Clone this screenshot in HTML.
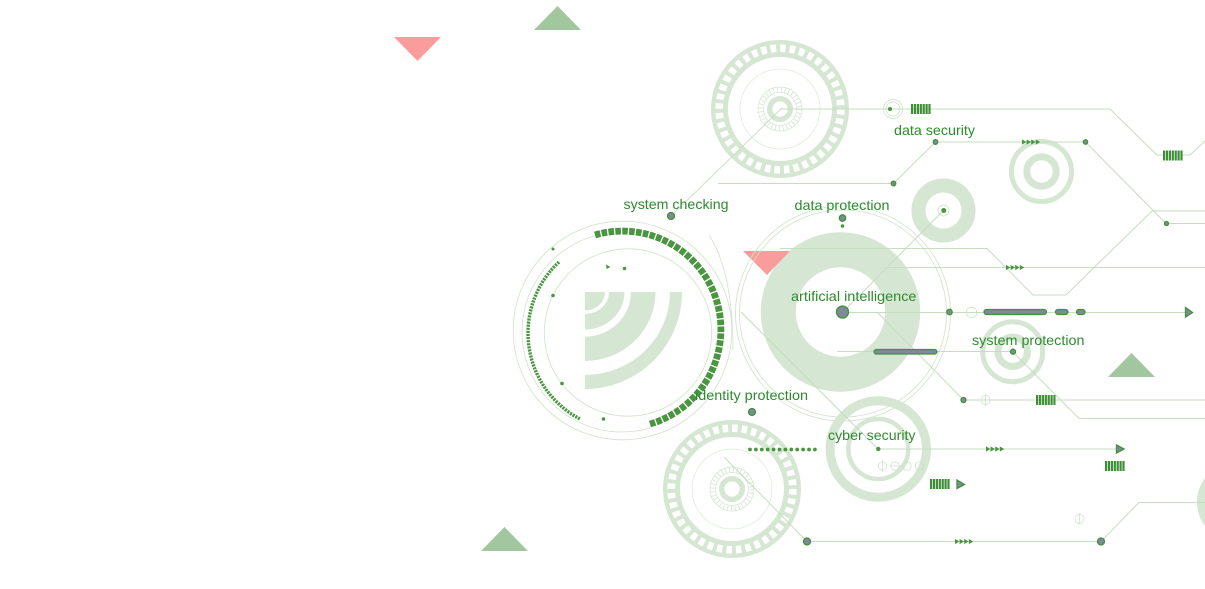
<!DOCTYPE html>
<html lang="en">
<head>
<meta charset="utf-8">
<title>Technology network illustration</title>
<style>
html,body{margin:0;padding:0;background:#fff;width:1205px;height:589px;overflow:hidden}
svg{display:block}
.l{fill:none;stroke:#c5debf;stroke-width:1}
.d{fill:none;stroke:#cfe3cb;stroke-width:.8}
.t{fill:none;stroke:#c9dfc5;stroke-width:.7}
.r{fill:none;stroke:#d5e6d2}
.n{fill:#7d8b98;stroke:#43903a;stroke-width:1.3}
.g{fill:#4a9640}
.b{fill:none;stroke:#3f8f37;stroke-width:10;stroke-dasharray:2.2 .7}
.p{fill:#7d8b98;stroke:#43903a;stroke-width:1.2}
text{font-family:"Liberation Sans",sans-serif;font-size:14px;fill:#2e8a2e}
</style>
</head>
<body>
<svg width="1205" height="589" viewBox="0 0 1205 589" xmlns="http://www.w3.org/2000/svg">
<defs>
<g id="arrows">
<polygon points="0,-2.6 4.4,0 0,2.6"/><polygon points="4.6,-2.6 9,0 4.6,2.6"/><polygon points="9.2,-2.6 13.6,0 9.2,2.6"/><polygon points="13.8,-2.6 18.2,0 13.8,2.6"/>
</g>
<g id="gear">
<circle r="60.5" class="r" stroke-width="17"/>
<circle r="60.8" fill="none" stroke="#fff" stroke-width="7.6" stroke-dasharray="5.6 3.95"/>
<circle r="40" fill="none" stroke="#dfecdc" stroke-width=".8"/>
<circle r="22" fill="none" stroke="#d5e6d2" stroke-width=".7"/>
<circle r="16.5" fill="none" stroke="#d5e6d2" stroke-width=".7"/>
<circle r="19.2" fill="none" stroke="#d5e6d2" stroke-width="5.5" stroke-dasharray=".8 3"/>
<circle r="10.3" class="r" stroke-width="5.4"/>
</g>
</defs>

<polygon points="394,37 441,37 417.5,61" fill="#fb9c9c"/>
<polygon points="557.5,6 534,30 581,30" fill="#a2c69d"/>
<polygon points="1131.5,353 1108,377 1155,377" fill="#a2c69d"/>
<polygon points="504.5,527 481,551 528,551" fill="#a2c69d"/>

<use href="#gear" x="780" y="109"/>
<use href="#gear" x="732" y="489"/>

<circle cx="840.5" cy="312" r="62.2" class="r" stroke-width="35"/>
<polygon points="743,251 790,251 767,275" fill="#fb9c9c"/>
<circle cx="843" cy="313.5" r="107.5" class="d"/>
<circle cx="843" cy="313.5" r="103.5" class="d"/>
<circle cx="943.5" cy="210.5" r="25" class="r" stroke-width="14"/>

<g>
<circle cx="1041.5" cy="171.5" r="30" class="r" stroke-width="5"/>
<circle cx="1041.5" cy="171.5" r="14.7" class="r" stroke-width="7"/>
</g>
<g>
<circle cx="1012.7" cy="351.7" r="30" class="r" stroke-width="5"/>
<circle cx="1012.7" cy="351.7" r="14.7" class="r" stroke-width="7"/>
</g>
<g>
<circle cx="878.3" cy="449" r="48.2" class="r" stroke-width="9"/>
<circle cx="878.3" cy="449" r="30" class="r" stroke-width="4.5"/>
</g>
<circle cx="1237" cy="502" r="33" class="r" stroke-width="14"/>

<g fill="#d5e6d2">
<path d="M585 292H605A20 18.5 0 0 1 585 310.5Z"/>
<path d="M585 292H609A24 0 0 0 0 609 292H624.5A39.5 37.5 0 0 1 585 329.5V314A24 22 0 0 0 609 292Z"/>
<path d="M585 336.7A46 45 0 0 0 631 292H655.5A70.5 69 0 0 1 585 361Z"/>
<path d="M585 375A85 83 0 0 0 670 292H682A97 97 0 0 1 585 389Z"/>
</g>

<g>
<circle cx="622.5" cy="330.5" r="109.3" class="d"/>
<circle cx="628" cy="332.5" r="83.7" class="d"/>
<path d="M594 236A100 100 0 0 0 650 428" class="d"/>
<path d="M709 235Q733 272 733 350" class="d"/>
<path d="M595 235A95.5 95.5 0 1 1 650 424" fill="none" stroke="#4a9640" stroke-width="6.8" stroke-dasharray="5.6 1.3"/>
<path d="M559 262A97 97 0 0 0 580 419" fill="none" stroke="#4a9640" stroke-width="3.4" stroke-dasharray="2.1 1"/>
<circle cx="553" cy="249" r="1.5" class="g"/>
<circle cx="624.5" cy="268.5" r="1.8" class="g"/>
<polygon points="606,264.5 610.5,267 606.5,269" class="g"/>
<circle cx="553" cy="295.5" r="1.8" class="g"/>
<circle cx="562" cy="383.5" r="1.8" class="g"/>
<circle cx="603.5" cy="419" r="1.8" class="g"/>
</g>

<g>
<path class="l" d="M780 109H1110L1157 155H1163"/>
<path class="l" d="M1182 155H1190L1205 141"/>
<path class="l" stroke-opacity=".9" d="M782 108L671 216"/>
<path class="l" d="M718 183.5H893.5L935.5 142H1085.5L1166 223.5H1205"/>
<path class="l" d="M1205 211H1152L1066 295H1033L987 248.5H780"/>
<path class="l" d="M885 267.5H1205"/>
<path class="l" d="M843 312L943.5 210.5"/>
<path class="l" d="M843 312.5H1186"/>
<path class="l" d="M837 351.5H1013"/>
<path class="l" d="M1013 352L1079 418.5H1205"/>
<path class="l" d="M877 312L963.5 400H1205"/>
<path class="l" d="M741 312L878 449"/>
<path class="l" d="M878 449H1117"/>
<path class="l" d="M724 457L807 541.5H1101L1139 502.5H1205"/>
</g>

<g class="g">
<use href="#arrows" x="1022" y="142"/>
<use href="#arrows" x="1006" y="267.5"/>
<use href="#arrows" x="986" y="449"/>
<use href="#arrows" x="955" y="541.5"/>
</g>

<path class="b" d="M911 109H931"/>
<path class="b" d="M1163 155.5H1183"/>
<path class="b" d="M1036 400H1055.5"/>
<path class="b" d="M1105 466H1125"/>
<path class="b" d="M930 484H950"/>

<g>
<rect class="p" x="984" y="309.5" width="62.5" height="5" rx="2.5"/>
<rect class="p" x="1055.5" y="309.5" width="12.5" height="5" rx="2.5"/>
<rect class="p" x="1076.5" y="309.5" width="8.5" height="5" rx="2.5"/>
<rect class="p" x="874" y="349.5" width="63" height="4.5" rx="2.2"/>
</g>

<g>
<polygon class="n" points="1185.5,307.5 1192.5,312.5 1185.5,317"/>
<polygon class="n" points="1116.5,445 1124,449 1116.5,453"/>
<polygon class="n" points="957,480 964.5,484.5 957,488.5"/>
</g>

<g>
<circle class="t" cx="893" cy="109" r="9.5"/>
<circle class="t" cx="893" cy="109" r="7"/>
<circle class="t" cx="971.5" cy="312.5" r="5.3"/>
<circle class="t" cx="985.5" cy="400" r="4.5"/>
<path class="t" d="M985.5 393.5V406.5M979 400H992"/>
<circle class="t" cx="882.5" cy="466" r="4.2"/>
<path class="t" d="M882.5 460V472"/>
<circle class="t" cx="895" cy="466" r="4.2"/>
<path class="t" d="M889.5 466H901"/>
<circle class="t" cx="907" cy="466" r="4.2"/>
<circle class="t" cx="919.5" cy="466" r="4.2"/>
<circle class="t" cx="1079.5" cy="519" r="4.5"/>
<path class="t" d="M1079.5 513.5V524.5"/>
<circle class="t" cx="943.5" cy="210.5" r="5.5"/>
</g>

<path d="M750 449.5H816" fill="none" stroke="#4a9640" stroke-width="3.8" stroke-linecap="round" stroke-dasharray="0 5.9"/>

<g>
<circle class="n" cx="671" cy="216" r="3.5"/>
<circle class="n" cx="842.5" cy="218" r="3.2"/>
<circle class="g" cx="842.5" cy="226" r="1.8"/>
<circle class="n" cx="752" cy="412" r="3.5"/>
<circle class="n" cx="842.5" cy="312" r="6"/>
<circle class="n" cx="949.5" cy="312" r="2.7"/>
<circle class="n" cx="1013" cy="351.7" r="2.5"/>
<circle class="n" cx="963.5" cy="400" r="2.5"/>
<circle class="n" cx="807" cy="541.5" r="3.5"/>
<circle class="n" cx="1101" cy="541.5" r="3.5"/>
<circle class="n" cx="893.5" cy="183.5" r="2.3"/>
<circle class="n" cx="935.5" cy="142" r="2.3"/>
<circle class="n" cx="1085.5" cy="142" r="2.2"/>
<circle class="n" cx="1166.5" cy="223.5" r="2"/>
<circle class="g" cx="890" cy="109" r="2"/>
<circle class="g" cx="943.8" cy="210.5" r="2.5"/>
<circle class="g" cx="878.3" cy="449" r="2.2"/>
</g>

<text x="894" y="135" textLength="81" lengthAdjust="spacingAndGlyphs">data security</text>
<text x="623.5" y="209" textLength="105" lengthAdjust="spacingAndGlyphs">system checking</text>
<text x="794.5" y="210" textLength="95" lengthAdjust="spacingAndGlyphs">data protection</text>
<text x="791" y="301" textLength="125.5" lengthAdjust="spacingAndGlyphs">artificial intelligence</text>
<text x="972" y="345" textLength="112.5" lengthAdjust="spacingAndGlyphs">system protection</text>
<text x="695" y="400" textLength="113" lengthAdjust="spacingAndGlyphs">identity protection</text>
<text x="828" y="440" textLength="87.5" lengthAdjust="spacingAndGlyphs">cyber security</text>
</svg>
</body>
</html>
